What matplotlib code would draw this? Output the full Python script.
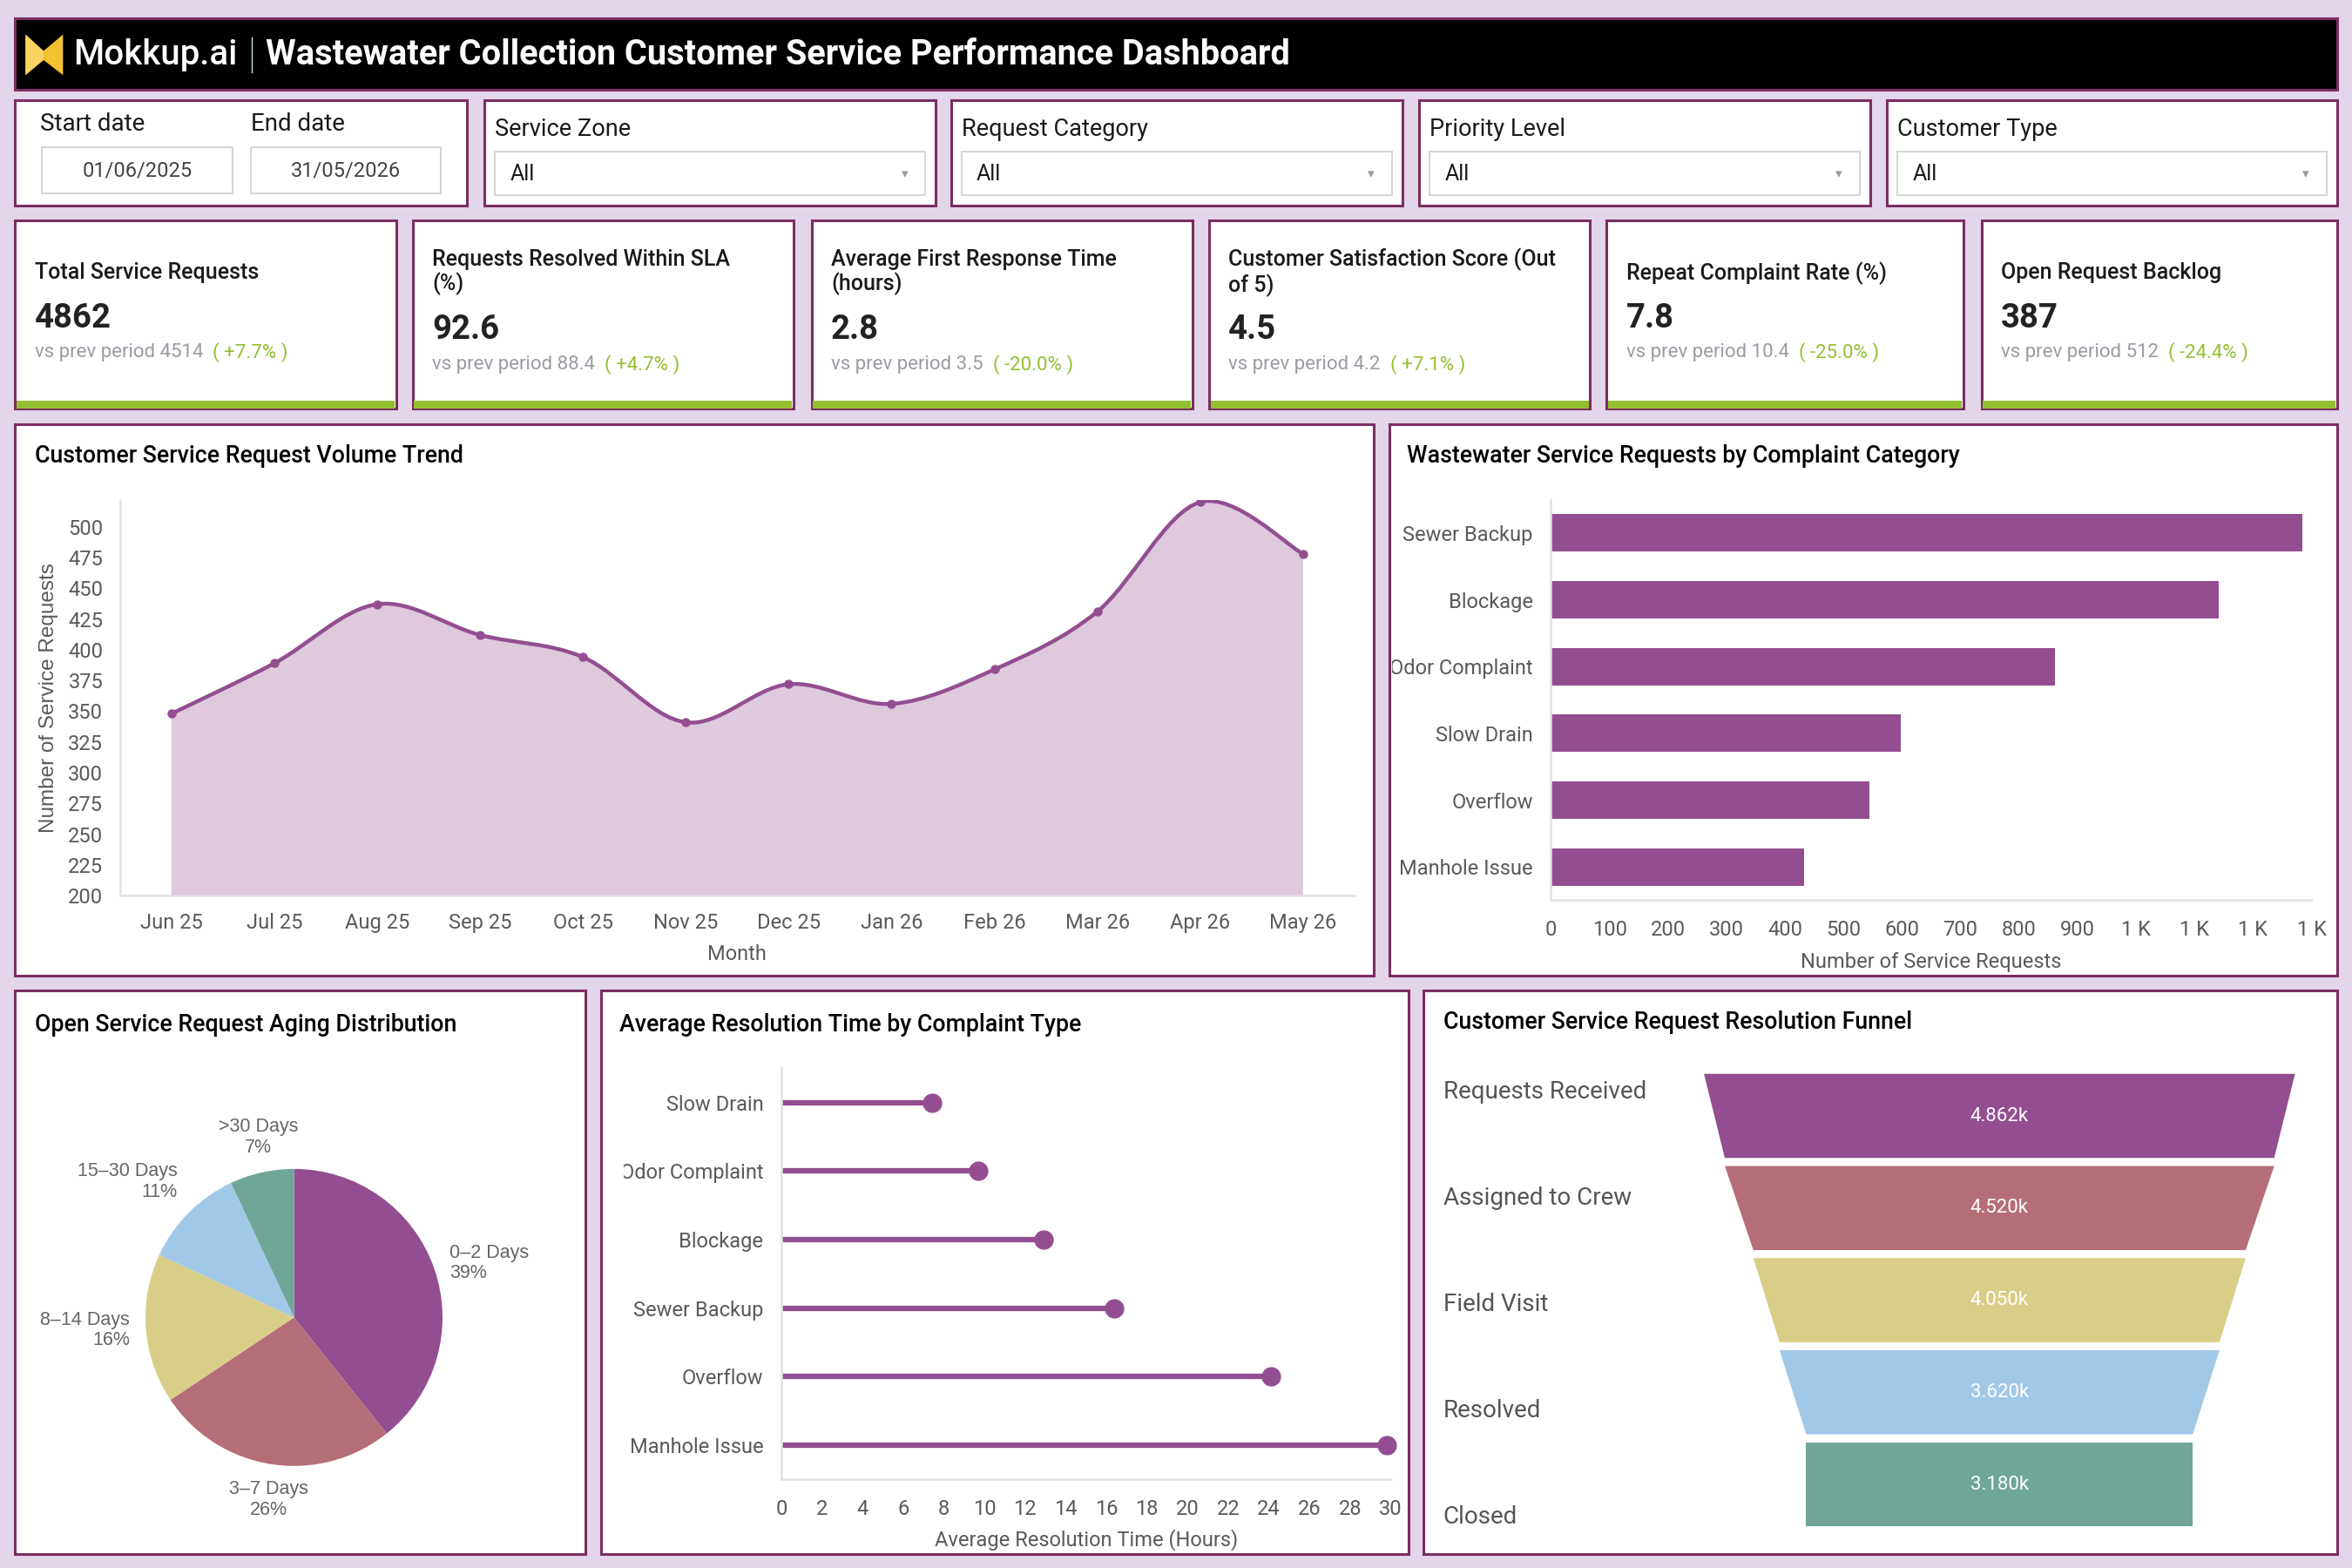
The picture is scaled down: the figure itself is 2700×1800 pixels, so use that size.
import numpy as np
import matplotlib
matplotlib.use("Agg")
import matplotlib.pyplot as plt
from matplotlib.patches import Rectangle, Polygon, PathPatch
from matplotlib.path import Path
from matplotlib.ticker import FuncFormatter
from matplotlib.transforms import Bbox, TransformedBbox

# ---- data ----
months = ["Jun 25", "Jul 25", "Aug 25", "Sep 25", "Oct 25", "Nov 25",
          "Dec 25", "Jan 26", "Feb 26", "Mar 26", "Apr 26", "May 26"]
monthly_requests = [348, 389, 437, 412, 394, 341, 372, 356, 384, 431, 520, 478]

categories = ["Sewer Backup", "Blockage", "Odor Complaint", "Slow Drain", "Overflow", "Manhole Issue"]
category_requests = [1284, 1142, 861, 598, 544, 433]

aging_labels = ["0–2 Days", "3–7 Days", "8–14 Days", "15–30 Days", ">30 Days"]
aging_counts = [152, 102, 63, 43, 27]

resolution_types = ["Slow Drain", "Odor Complaint", "Blockage", "Sewer Backup", "Overflow", "Manhole Issue"]
resolution_hours = [7.4, 9.7, 12.9, 16.4, 24.1, 29.8]

funnel_stages = ["Requests Received", "Assigned to Crew", "Field Visit", "Resolved", "Closed"]
funnel_counts = [4862, 4520, 4050, 3620, 3180]

kpi_titles = ["Total Service Requests", "Requests Resolved Within SLA\n(%)",
              "Average First Response Time\n(hours)", "Customer Satisfaction Score (Out\nof 5)",
              "Repeat Complaint Rate (%)", "Open Request Backlog"]
kpi_values = ["4862", "92.6", "2.8", "4.5", "7.8", "387"]
kpi_prev = ["4514", "88.4", "3.5", "4.2", "10.4", "512"]
kpi_delta = ["+7.7%", "+4.7%", "-20.0%", "+7.1%", "-25.0%", "-24.4%"]

filter_labels = ["Service Zone", "Request Category", "Priority Level", "Customer Type"]
start_date = "01/06/2025"
end_date = "31/05/2026"

# ---- style ----
W, H = 1568, 1045
PURPLE = "#934E91"
BORDER = "#7A2E62"
BG = "#E3D6E8"
GREEN = "#93C031"
DARK = "#1A1A1A"
TICK = "#5A5A5A"
AXISGRAY = "#E2E2E2"
PIE_COLORS = ["#934E91", "#B56E77", "#D9CE88", "#A2C8E8", "#6FA698"]
TICKSIZE = 17

plt.rcParams['font.family'] = ['Roboto', 'DejaVu Sans']

fig = plt.figure(figsize=(27, 18), dpi=100)
fig.patch.set_facecolor(BG)
bg = fig.add_axes([0, 0, 1, 1])
bg.set_xlim(0, W)
bg.set_ylim(H, 0)
bg.axis('off')


def panel(x0, y0, x1, y1, fc='white'):
    bg.add_patch(Rectangle((x0, y0), x1 - x0, y1 - y0, facecolor=fc, edgecolor=BORDER, lw=2.2))


def add_ax(x0, y0, x1, y1):
    return fig.add_axes([x0 / W, 1 - y1 / H, (x1 - x0) / W, (y1 - y0) / H])


def style_axes(ax):
    for s in ['top', 'right']:
        ax.spines[s].set_visible(False)
    for s in ['left', 'bottom']:
        ax.spines[s].set_color(AXISGRAY)
        ax.spines[s].set_linewidth(1.8)
    ax.set_facecolor('none')
    ax.tick_params(length=0, labelsize=TICKSIZE, labelcolor=TICK)


def xlabel_at(ax, text, y):
    ax.set_xlabel(text, fontsize=TICKSIZE, color=TICK)
    ax.xaxis.set_label_coords(0.5, y)
    ax.xaxis.label.set_va('center')


# ---- header ----
panel(10, 12, 1558, 60, fc='black')
bg.add_patch(Polygon([(17, 23), (29, 34), (42, 23), (42, 50), (29, 40), (17, 50)],
                     closed=True, fc='#F2C230', ec='none'))
bg.add_patch(Polygon([(17, 23), (29, 34), (29, 40), (17, 50)], closed=True, fc='#F7D560', ec='none'))
bg.text(49, 36.5, "Mokkup.ai", color='white', fontsize=29, fontweight='medium', va='center')
bg.plot([168, 168], [25, 48], color='#BFE3E8', lw=1)
bg.text(177, 36.5, "Wastewater Collection Customer Service Performance Dashboard",
        color='white', fontsize=28.6, fontweight='bold', va='center')

# ---- filters ----
panel(10, 67, 311, 137)
bg.text(27, 83, "Start date", fontsize=20, color=DARK, va='center')
bg.text(167, 83, "End date", fontsize=20, color=DARK, va='center')
for (x0, x1, d) in [(28, 155, start_date), (167, 294, end_date)]:
    bg.add_patch(Rectangle((x0, 98), x1 - x0, 31, fc='white', ec='#D6D6D6', lw=1.5))
    bg.text((x0 + x1) / 2, 113.5, d, fontsize=17, color='#444444', ha='center', va='center')

for lab, (x0, x1) in zip(filter_labels, [(323, 624), (634, 935), (946, 1247), (1258, 1558)]):
    panel(x0, 67, x1, 137)
    bg.text(x0 + 7, 86, lab, fontsize=19.5, color=DARK, va='center')
    bg.add_patch(Rectangle((x0 + 7, 101), x1 - x0 - 14, 29, fc='white', ec='#D6D6D6', lw=1.5))
    bg.text(x0 + 17, 116, "All", fontsize=18, color=DARK, va='center')
    bg.text(x1 - 21, 116, "▾", fontsize=11, color='#999999', va='center', ha='center')

# ---- KPI cards ----
card_x = [(10, 264), (275, 529), (541, 795), (806, 1060), (1071, 1309), (1321, 1558)]
for (x0, x1), t, v, p, d in zip(card_x, kpi_titles, kpi_values, kpi_prev, kpi_delta):
    panel(x0, 147, x1, 272)
    bg.add_patch(Rectangle((x0 + 1, 267), x1 - x0 - 2, 5, fc=GREEN, ec='none'))
    if '\n' in t:
        ty, vy, sy = 181.5, 220, 243
    else:
        ty, vy, sy = 182, 212, 235
    bg.text(x0 + 13, ty, t, fontsize=18, fontweight='medium', color=DARK, va='center', linespacing=1.15)
    bg.text(x0 + 13, vy, v, fontsize=27.5, fontweight='bold', color='#222222', va='center')
    st = bg.text(x0 + 13, sy, f"vs prev period {p}", fontsize=16, color='#9A9CA3', va='center')
    bg.annotate(f"( {d} )", xy=(1, 0.5), xycoords=st, xytext=(8, 0), textcoords='offset points',
                fontsize=16, color=GREEN, va='center', ha='left')

# ---- chart panels ----
panel(10, 283, 916, 650)
panel(926, 283, 1558, 650)
panel(10, 660, 390, 1036)
panel(401, 660, 939, 1036)
panel(949, 660, 1558, 1036)
TS = 19.3
bg.text(23, 304, "Customer Service Request Volume Trend", fontsize=TS, fontweight='medium', va='center')
bg.text(938, 304, "Wastewater Service Requests by Complaint Category", fontsize=TS, fontweight='medium', va='center')
bg.text(23, 683, "Open Service Request Aging Distribution", fontsize=TS, fontweight='medium', va='center')
bg.text(413, 683, "Average Resolution Time by Complaint Type", fontsize=TS, fontweight='medium', va='center')
bg.text(962, 681, "Customer Service Request Resolution Funnel", fontsize=TS, fontweight='medium', va='center')

# ---- line / area chart ----
ax1 = add_ax(80, 333, 903, 597)
xs = np.arange(len(months), dtype=float)
ys = np.array(monthly_requests, dtype=float)
ax1.set_xlim(-0.5, len(months) - 0.5)
ax1.set_ylim(200, 522)
pts = np.column_stack([xs, ys])
ext = np.vstack([pts[0], pts, pts[-1]])
verts = [pts[0]]
codes = [Path.MOVETO]
for i in range(len(pts) - 1):
    p0, p1, p2, p3 = ext[i], ext[i + 1], ext[i + 2], ext[i + 3]
    verts += [p1 + (p2 - p0) / 6, p2 - (p3 - p1) / 6, p2]
    codes += [Path.CURVE4] * 3
base = ax1.get_ylim()[0]
ax1.add_patch(PathPatch(Path(verts + [(xs[-1], base), (xs[0], base), pts[0]],
                             codes + [Path.LINETO, Path.LINETO, Path.CLOSEPOLY]),
                        fc=PURPLE, alpha=0.3, ec='none'))
ax1.add_patch(PathPatch(Path(verts, codes), fc='none', ec=PURPLE, lw=3.2))
ax1.plot(xs, ys, 'o', color=PURPLE, ms=6.5)
ax1.set_xticks(xs, months)
ax1.set_yticks(np.arange(200, 501, 25))
style_axes(ax1)
ax1.tick_params(axis='x', pad=14)
ax1.tick_params(axis='y', pad=14)
xlabel_at(ax1, "Month", -0.148)
ax1.set_ylabel("Number of Service Requests", fontsize=17.5, color=TICK,
               family=['Liberation Sans', 'DejaVu Sans'])
ax1.yaxis.set_label_coords(-0.058, 0.5)
ax1.yaxis.label.set_va('center')

# ---- horizontal bar chart ----
ax2 = add_ax(1034, 333, 1541, 600)
yc = np.arange(len(categories))
ax2.barh(yc, category_requests, height=0.56, color=PURPLE)
ax2.set_ylim(len(categories) - 0.5, -0.5)
ax2.set_xlim(0, 1300)
ax2.set_yticks(yc, categories)
ax2.set_xticks(np.arange(0, 1301, 100))
ax2.xaxis.set_major_formatter(FuncFormatter(lambda v, _: f"{v / 1000:.0f} K" if v >= 1000 else f"{v:.0f}"))
style_axes(ax2)
ax2.tick_params(axis='x', pad=16)
ax2.tick_params(axis='y', pad=15)
xlabel_at(ax2, "Number of Service Requests", -0.154)
clip2 = TransformedBbox(Bbox.from_extents(928 / W, 0, 1, 1), fig.transFigure)
for lbl in ax2.get_yticklabels():
    lbl.set_clip_box(clip2)
    lbl.set_clip_on(True)

# ---- pie chart ----
ax4 = add_ax(46, 728, 346, 1028)
total = sum(aging_counts)
pct = [round(100 * c / total) for c in aging_counts]
wedges, texts = ax4.pie(aging_counts, colors=PIE_COLORS, startangle=90, counterclock=False,
                        radius=0.66, labels=[f"{l}\n{p}%" for l, p in zip(aging_labels, pct)],
                        labeldistance=1.11, wedgeprops=dict(linewidth=0),
                        textprops=dict(fontsize=15.5, color='#666666',
                                       family=['Liberation Sans', 'DejaVu Sans'], linespacing=1.15))
for w, t in zip(wedges, texts):
    ang = np.deg2rad((w.theta1 + w.theta2) / 2)
    c, s = np.cos(ang), np.sin(ang)
    t.set_ha('center' if abs(c) < 0.3 else ('left' if c > 0 else 'right'))
    t.set_va('bottom' if s > 0.5 else ('top' if s < -0.5 else 'center'))
ax4.set_xlim(-1, 1)
ax4.set_ylim(-1, 1)
ax4.set_aspect('equal')

# ---- lollipop chart ----
ax3 = add_ax(521, 712, 927, 986)
yr = np.arange(len(resolution_types))
ax3.hlines(yr, 0, resolution_hours, color=PURPLE, lw=4.5)
ax3.plot(resolution_hours, yr, 'o', color=PURPLE, ms=15, clip_on=False)
ax3.set_ylim(len(resolution_types) - 0.5, -0.5)
ax3.set_xlim(0, 30)
ax3.set_yticks(yr, resolution_types)
ax3.set_xticks(np.arange(0, 31, 2))
style_axes(ax3)
ax3.tick_params(axis='x', pad=16)
ax3.tick_params(axis='y', pad=15)
xlabel_at(ax3, "Average Resolution Time (Hours)", -0.146)
clip3 = TransformedBbox(Bbox.from_extents(416 / W, 0, 1, 1), fig.transFigure)
for lbl in ax3.get_yticklabels():
    lbl.set_clip_box(clip3)
    lbl.set_clip_on(True)

# ---- funnel ----
ax5 = add_ax(1136, 713, 1530, 1020)
half = max(funnel_counts) / 2
ax5.set_xlim(-half, half)
ax5.set_ylim(len(funnel_stages) - 0.5, -0.5)
ax5.axis('off')
h = 0.4565
for i, v in enumerate(funnel_counts):
    top = v / 2
    bot = funnel_counts[i + 1] / 2 if i + 1 < len(funnel_counts) else v / 2
    ax5.fill([-top, top, bot, -bot], [i - h, i - h, i + h, i + h], color=PIE_COLORS[i], lw=0)
    ax5.text(0, i, f"{v / 1000:.3f}k", color='white', fontsize=16, ha='center', va='center')
for stage, y in zip(funnel_stages, np.linspace(728, 1011, len(funnel_stages))):
    bg.text(962, y, stage, fontsize=20, color='#555555', va='center')

fig.savefig("out.png", dpi=100, facecolor=BG)
